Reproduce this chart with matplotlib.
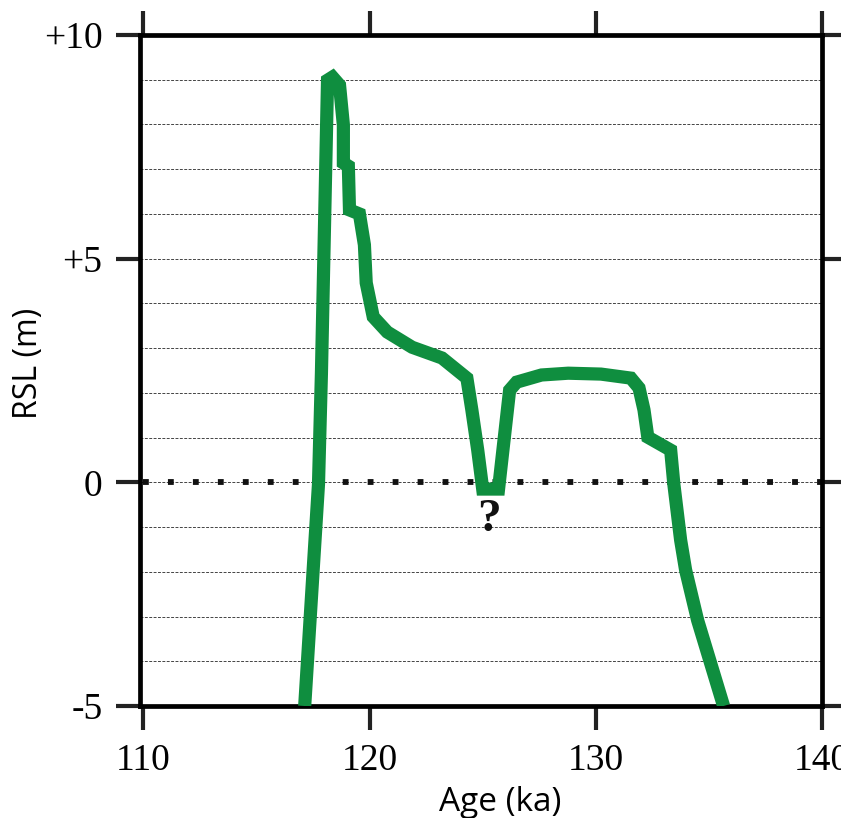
import matplotlib
matplotlib.use('Agg')
import matplotlib.pyplot as plt

# RSL curve (age in ka, RSL in m)
age = [117.13, 117.74, 117.87, 118.14, 118.36, 118.67, 118.84, 118.84, 119.06,
       119.11, 119.55, 119.77, 119.85, 120.16, 120.78, 121.88, 123.20, 124.30,
       124.52, 124.78, 125.00, 125.70, 126.19, 126.50, 127.60, 128.78, 130.23,
       131.55, 131.91, 132.13, 132.30, 133.31, 133.45, 133.75, 133.97, 134.50,
       135.65]
rsl = [-5.0, -0.04, 2.44, 8.99, 9.06, 8.88, 7.99, 7.14, 7.07,
       6.09, 6.0, 5.31, 4.46, 3.70, 3.36, 3.02, 2.78, 2.33,
       1.62, 0.72, -0.15, -0.15, 2.06, 2.24, 2.40, 2.44, 2.42,
       2.33, 2.11, 1.62, 1.01, 0.72, -0.04, -1.29, -1.96, -3.08,
       -5.0]

xticks = [110, 120, 130, 140]
yticks = [-5, 0, 5, 10]
ylabels = ['-5', '0', '+5', '+10']
grid_levels = [-4, -3, -2, -1, 0, 1, 2, 3, 4, 5, 6, 7, 8, 9]

fig = plt.figure(figsize=(8.41, 8.18), dpi=100)
ax = fig.add_axes([0.1665, 0.1369, 0.8109, 0.8203])

for g in grid_levels:
    ax.axhline(g, color='#444444', lw=0.7, ls=(0, (3, 1.5)), zorder=1)
# zero line, square dots
ax.axhline(0, color='#111111', lw=4.2, ls=(3.77, (1, 3.28)), dash_capstyle='butt', zorder=2)

ax.plot(age, rsl, color='#0F8E3F', lw=9.5, solid_joinstyle='miter',
        solid_capstyle='butt', zorder=3)

ax.text(125.26, -0.85, '?', family='Liberation Serif', fontweight='bold',
        fontsize=34, ha='center', va='center', color='#111111')

ax.set_xlim(109.85, 140)
ax.set_ylim(-5, 10)
ax.set_xticks(xticks)
ax.set_yticks(yticks)
ax.set_yticklabels(ylabels)
ax.tick_params(direction='out', length=17, width=3, color='#222222',
               top=True, right=True, labelsize=27, pad=10)
for lab in ax.get_xticklabels() + ax.get_yticklabels():
    lab.set_family('Liberation Serif')
for s in ax.spines.values():
    s.set_linewidth(3.4)
    s.set_color('black')

ax.set_xlabel('Age (ka)', family='Open Sans', fontsize=24)
ax.set_ylabel('RSL (m)', family='Open Sans', fontsize=23)
ax.xaxis.set_label_coords(0.528, -0.119)
ax.yaxis.set_label_coords(-0.139, 0.51)

fig.savefig('out.png', dpi=100)
